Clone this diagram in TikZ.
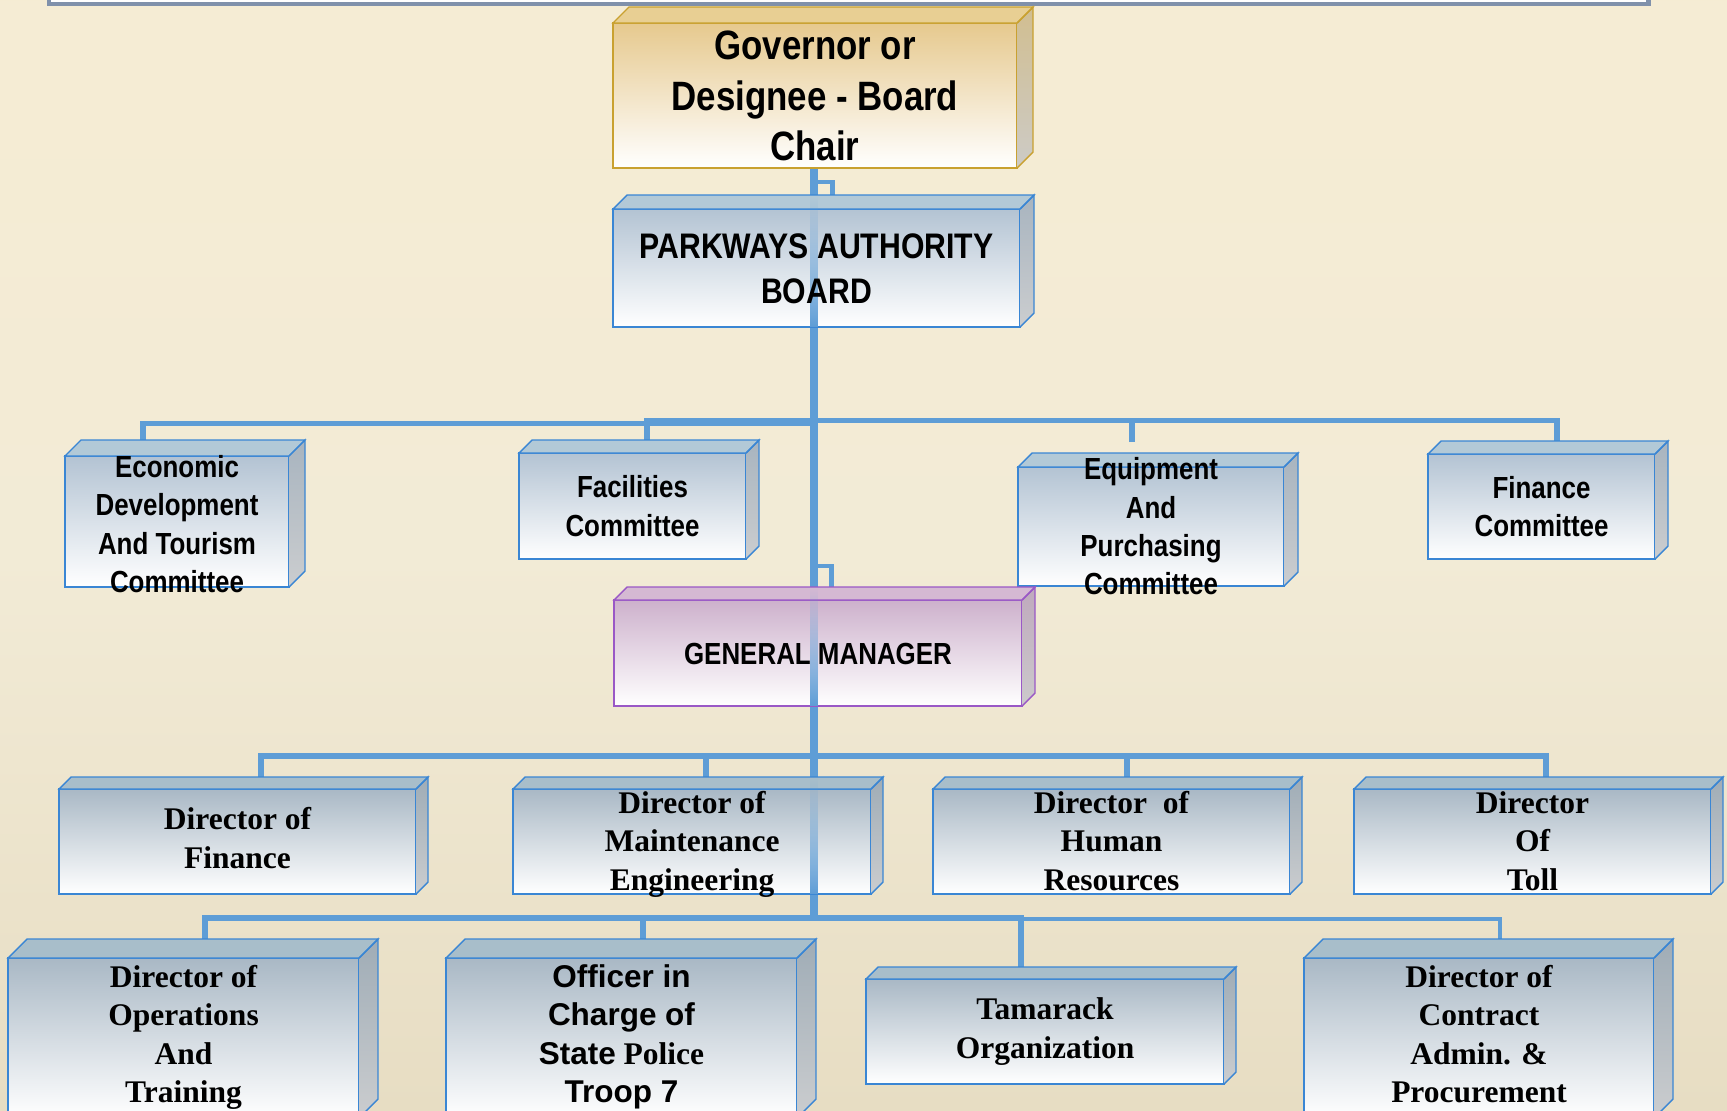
\documentclass[tikz,border=0pt]{standalone}
\usepackage{fontspec}
\setmainfont{Liberation Serif}
\newfontfamily\narrowsf{Liberation Sans}[FakeStretch=0.85]
\newfontfamily\arialf{Liberation Sans}
\usetikzlibrary{calc,fadings}
\pgfdeclarelayer{bglayer}
\pgfdeclarelayer{connlayer}
\pgfsetlayers{bglayer,connlayer,main}

\definecolor{bgA}{HTML}{F9EDD1}
\definecolor{bgB}{HTML}{F2EBD6}
\definecolor{bgC}{HTML}{E7DDC3}
\definecolor{bgD}{HTML}{D4C49E}
\definecolor{framec}{HTML}{8091AB}
\definecolor{connc}{HTML}{5E9DD6}
\definecolor{bordb}{HTML}{3A86D4}
\definecolor{frontB}{HTML}{B3C3D3}
\definecolor{topB}{HTML}{B2C9D7}
\definecolor{sideBt}{HTML}{A8B4BF}
\definecolor{sideBb}{HTML}{CBCDCF}
\definecolor{frontD}{HTML}{A9B8C5}
\definecolor{topD}{HTML}{A8BECA}
\definecolor{sideDt}{HTML}{9FACB6}
\definecolor{bordg}{HTML}{C9A130}
\definecolor{frontG}{HTML}{E6C98E}
\definecolor{topG}{HTML}{E8CF93}
\definecolor{sideGt}{HTML}{D1BE90}
\definecolor{sideGb}{HTML}{CDCBC6}
\definecolor{bordp}{HTML}{9A58C6}
\definecolor{frontP}{HTML}{CDB1CC}
\definecolor{topP}{HTML}{D5B9D3}
\definecolor{sidePt}{HTML}{BFA9BD}
\definecolor{sidePb}{HTML}{CCCACC}

\pgfdeclareverticalshading{bgsh}{100bp}{color(0bp)=(bgD); color(25bp)=(bgC); color(50bp)=(bgB); color(100bp)=(bgA)}

% faces of a 3D box: node, depth, top face colour, side top, side bottom, border
\newcommand\boxfaces[6]{%
  \shade[top color=#4, bottom color=#5] (#1.north east) -- ++(#2,-#2) -- ($(#1.south east)+(#2,-#2)$) -- (#1.south east) -- cycle;
  \filldraw[draw=#6, fill=#3, line width=1.4pt, line join=miter] (#1.north west) -- ++(#2,-#2) -- ($(#1.north east)+(#2,-#2)$) -- (#1.north east) -- cycle;
  \draw[draw=#6, line width=1.4pt, line join=miter] (#1.north east) -- ++(#2,-#2) -- ($(#1.south east)+(#2,-#2)$) -- (#1.south east);
}

\begin{document}
\begin{tikzpicture}[x=1pt,y=-1pt,
  fbase/.style={inner sep=0pt, outer sep=0pt, line width=1.4pt},
  fblue/.style={fbase, draw=bordb, top color=frontB, bottom color=white},
  fdir/.style={fbase, draw=bordb, top color=frontD, bottom color=white},
  fgold/.style={fbase, draw=bordg, top color=frontG, bottom color=white},
  fpurple/.style={fbase, draw=bordp, top color=frontP, bottom color=white},
  txt/.style={inner sep=0pt, outer sep=0pt, align=center, text height=#1, text depth=0pt},
  govfont/.style={font=\narrowsf\bfseries\fontsize{41}{50.5}\selectfont},
  pabfont/.style={font=\narrowsf\bfseries\fontsize{35.5}{45}\selectfont},
  comfont/.style={font=\narrowsf\bfseries\fontsize{30.5}{38.3}\selectfont},
  dirfont/.style={font=\rmfamily\bfseries\fontsize{31.5}{38.3}\selectfont},
  trunk/.style={draw=connc, line width=7.5pt},
  branch/.style={draw=connc, line width=5.5pt, line join=miter},
  thinbranch/.style={draw=connc, line width=4.5pt, line join=miter},
  elbow/.style={draw=connc, line width=4.5pt, line join=miter},
  fadeline/.style={fill=connc, path fading=north},
  frame/.style={draw=framec, fill=white, line width=4.5pt}
]
\useasboundingbox (0,0) rectangle (1727,1111);
\begin{pgfonlayer}{bglayer}
  \shade[shading=bgsh] (0,0) rectangle (1727,1111);
\end{pgfonlayer}
\filldraw[frame] (49,-30) rectangle (1648.5,4);

% ---- boxes (front faces)
\node[fgold,   minimum width=404pt, minimum height=145pt] (gov) at (815,95.5) {};
\node[fblue,   minimum width=407pt, minimum height=118pt] (pab) at (816.5,268) {};
\node[fblue,   minimum width=224pt, minimum height=131pt] (eco) at (177,521.5) {};
\node[fblue,   minimum width=227pt, minimum height=106pt] (fac) at (632.5,506) {};
\node[fblue,   minimum width=266pt, minimum height=119pt] (equ) at (1151,526.5) {};
\node[fblue,   minimum width=227pt, minimum height=105pt] (fin) at (1541.5,506.5) {};
\node[fpurple, minimum width=408pt, minimum height=106pt] (gm) at (818,653) {};
\node[fdir,    minimum width=357pt, minimum height=105pt] (dfin) at (237.5,841.5) {};
\node[fdir,    minimum width=358pt, minimum height=105pt] (dme) at (692,841.5) {};
\node[fdir,    minimum width=357pt, minimum height=105pt] (dhr) at (1111.5,841.5) {};
\node[fdir,    minimum width=357pt, minimum height=105pt] (dtoll) at (1532.5,841.5) {};
\node[fdir,    minimum width=351pt, minimum height=160pt] (ops) at (183.5,1038) {};
\node[fdir,    minimum width=351pt, minimum height=160pt] (ofc) at (621.5,1038) {};
\node[fdir,    minimum width=358pt, minimum height=105pt] (tam) at (1045,1031.5) {};
\node[fdir,    minimum width=350pt, minimum height=160pt] (con) at (1479,1038) {};

% ---- 3D faces
\boxfaces{gov}{16}{topG}{sideGt}{sideGb}{bordg}
\boxfaces{pab}{14}{topB}{sideBt}{sideBb}{bordb}
\boxfaces{eco}{16}{topB}{sideBt}{sideBb}{bordb}
\boxfaces{fac}{13}{topB}{sideBt}{sideBb}{bordb}
\boxfaces{equ}{14}{topB}{sideBt}{sideBb}{bordb}
\boxfaces{fin}{13}{topB}{sideBt}{sideBb}{bordb}
\boxfaces{gm}{13}{topP}{sidePt}{sidePb}{bordp}
\boxfaces{dfin}{12}{topD}{sideDt}{sideBb}{bordb}
\boxfaces{dme}{12}{topD}{sideDt}{sideBb}{bordb}
\boxfaces{dhr}{12}{topD}{sideDt}{sideBb}{bordb}
\boxfaces{dtoll}{12}{topD}{sideDt}{sideBb}{bordb}
\boxfaces{ops}{19}{topD}{sideDt}{sideBb}{bordb}
\boxfaces{ofc}{19}{topD}{sideDt}{sideBb}{bordb}
\boxfaces{tam}{12}{topD}{sideDt}{sideBb}{bordb}
\boxfaces{con}{19}{topD}{sideDt}{sideBb}{bordb}

% ---- connectors
\coordinate (tx) at (814,0);
\coordinate (j3) at (814,918);
\begin{pgfonlayer}{connlayer}
  \draw[trunk] (gov.south -| tx) -- (j3);
  \draw[elbow] ($(gov.south -| tx)+(0,14)$) -| ($(pab.north)+(16,-14)$);
  \draw[elbow] ($(gm.north -| tx)+(0,-34)$) -| ($(gm.north)+(13.5,-13)$);
  % committees
  \draw[branch] ($(eco.north west)+(78,-14)$) |- ($(tx)+(0,423.5)$);
  \draw[branch] ($(fac.north)+(14.5,-12)$) -- ++(0,-20.5) -| ($(fin.north)+(15.5,-12)$);
  \draw[branch] ($(equ.north)+(-19,-25)$) -- ++(0,-21.5);
  % directors row 1
  \draw[branch] ($(dfin.north)+(23.5,-11)$) -- ++(0,-22) -| ($(dtoll.north)+(13.5,-11)$);
  \draw[branch] ($(dme.north)+(14,-11)$) -- ++(0,-22);
  \draw[branch] ($(dhr.north)+(15.5,-11)$) -- ++(0,-22);
  % row 2
  \draw[branch] ($(ops.north)+(21.5,-18)$) -- ++(0,-22) -| ($(tam.north)+(-24,-11)$);
  \draw[branch] ($(ofc.north)+(21.5,-18)$) -- ++(0,-22);
  \draw[thinbranch] ($(tam.north)+(-24,-60)$) -| ($(con.north)+(21,-18)$);
\end{pgfonlayer}

% ---- trunk seen through the boxes
\fill[fadeline] ($(pab.north -| tx)+(-3.75,-14)$) rectangle ($(pab.south -| tx)+(3.75,0)$);
\fill[fadeline] ($(gm.north -| tx)+(-3.75,-13)$) rectangle ($(gm.south -| tx)+(3.75,0)$);
\fill[fadeline] ($(dme.north -| tx)+(-3.75,-12)$) rectangle ($(dme.south -| tx)+(3.75,0)$);

% ---- texts (text height = cap height + (lines-1) x baselineskip)
\node[govfont, txt=130.4pt] (gov-t) at (gov.center) {Governor or\\Designee - Board\\Chair};
\node[pabfont, txt=70.4pt] (pab-t) at (pab.center) {PARKWAYS AUTHORITY\\BOARD};
\node[comfont, txt=136.7pt] (eco-t) at ($(eco.center)+(0,2.5)$) {Economic\\Development\\And Tourism\\Committee};
\node[comfont, txt=60.1pt] (fac-t) at (fac.center) {Facilities\\Committee};
\node[comfont, txt=136.7pt] (equ-t) at (equ.center) {Equipment\\And\\Purchasing\\Committee};
\node[comfont, txt=60.1pt] (fin-t) at (fin.center) {Finance\\Committee};
\node[comfont, txt=22pt] (gm-t) at (gm.center) {GENERAL MANAGER};
\node[dirfont, txt=59.2pt] (dfin-t) at ($(dfin.center)+(0,-3)$) {Director of\\Finance};
\node[dirfont, txt=97.5pt] (dme-t) at (dme.center) {Director of\\Maintenance\\Engineering};
\node[dirfont, txt=97.5pt] (dhr-t) at (dhr.center) {Director\ \ of\\Human\\Resources};
\node[dirfont, txt=97.5pt] (dtoll-t) at (dtoll.center) {Director\\Of\\Toll};
\node[dirfont, txt=135.8pt] (ops-t) at ($(ops.center)+(0,-3.5)$) {Director of\\Operations\\And\\Training};
\node[dirfont, txt=135.8pt] (ofc-t) at ($(ofc.center)+(0,-3.5)$) {{\arialf Officer in}\\{\arialf Charge of}\\{\arialf State} Police\\{\arialf Troop 7}};
\node[dirfont, txt=59.2pt] (tam-t) at ($(tam.center)+(0,-3)$) {Tamarack\\Organization};
\node[dirfont, txt=135.8pt] (con-t) at ($(con.center)+(0,-3.5)$) {Director of\\Contract\\Admin. \&\\Procurement};
\end{tikzpicture}
\end{document}
